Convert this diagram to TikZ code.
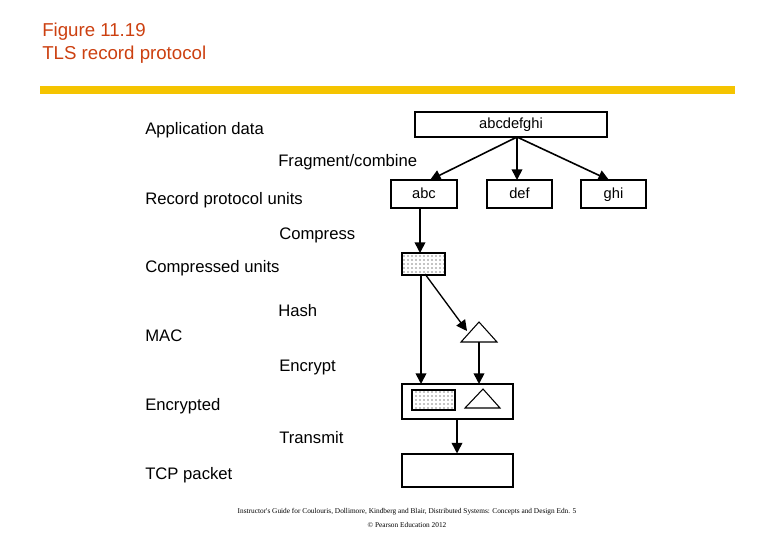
\documentclass[tikz,border=0pt]{standalone}
\usepackage{fontspec}
\setmainfont{Liberation Sans}
\newfontfamily\footserif{Liberation Serif}
\usetikzlibrary{patterns,arrows.meta}
\definecolor{bar}{RGB}{245,196,0}
\definecolor{ttl}{RGB}{204,64,16}
\begin{document}
\begin{tikzpicture}[x=0.75pt,y=-0.75pt,
  box/.style={draw,line width=0.8pt,inner sep=0pt},
  bt/.style={box,font=\fontsize{11}{13}\selectfont,text height=8pt,text depth=2pt},
  lbl/.style={anchor=west,inner sep=0pt,font=\fontsize{12.5}{14}\selectfont},
  tl/.style={anchor=west,inner sep=0pt,text=ttl,font=\fontsize{14}{16}\selectfont},
  arr/.style={line width=1.2pt,-{Triangle[length=8pt,width=8pt]}},
  dots/.style={pattern=dots}]
\useasboundingbox (0,0) rectangle (780,540);
\node[tl] (t1) at (42,32) {Figure 11.19};
\node[tl] (t2) at (42,55) {TLS record protocol};
\fill[bar] (40,86) rectangle (735,94);
\node[lbl] (l1) at (145,130) {Application data};
\node[lbl] (l2) at (278,162) {Fragment/combine};
\node[lbl] (l3) at (145,200) {Record protocol units};
\node[lbl] (l4) at (279,235) {Compress};
\node[lbl] (l5) at (145,268) {Compressed units};
\node[lbl] (l6) at (278,311) {Hash};
\node[lbl] (l7) at (145,336) {MAC};
\node[lbl] (l8) at (279,367) {Encrypt};
\node[lbl] (l9) at (145,406) {Encrypted};
\node[lbl] (l10) at (279,438) {Transmit};
\node[lbl] (l11) at (145,475) {TCP packet};
\node[bt,minimum width=192pt*0.75,minimum height=25pt*0.75] (all) at (511,124.5) {abcdefghi};
\node[bt,minimum width=66pt*0.75,minimum height=28pt*0.75] (abc) at (424,194) {abc};
\node[bt,minimum width=65pt*0.75,minimum height=28pt*0.75] (def) at (519.5,194) {def};
\node[bt,minimum width=65pt*0.75,minimum height=28pt*0.75] (ghi) at (613.5,194) {ghi};
\coordinate (src) at (517,137);
\draw[arr] (src) -- (430,180);
\draw[arr] (src) -- (517,180);
\draw[arr] (src) -- (609,180);
\node[box,dots,minimum width=43pt*0.75,minimum height=22pt*0.75] (cmp) at (423.5,264) {};
\draw[arr] (420,208) -- (420,253);
\coordinate (tA) at (479,322);
\draw[line width=0.8pt,fill=white] (tA) -- (497,342) -- (461,342) -- cycle;
\draw[line width=1pt,-{Triangle[length=8pt,width=8pt]}] (425,274) -- (467,331);
\node[box,minimum width=111pt*0.75,minimum height=35pt*0.75] (enc) at (457.5,401.5) {};
\draw[box,dots] (412,390) rectangle (455,410);
\draw[line width=0.8pt] (483,389) -- (500,408) -- (465,408) -- cycle;
\draw[arr] (421,275) -- (421,384);
\draw[arr] (479,342) -- (479,384);
\node[box,minimum width=111pt*0.75,minimum height=33pt*0.75] (tcp) at (457.5,470.5) {};
\draw[arr] (457,419) -- (tcp.north -| 457,0);
\node[inner sep=0pt,font=\footserif\fontsize{5.5}{6}\selectfont] (f1) at (407,512) {Instructor's Guide for Coulouris, Dollimore, Kindberg and Blair, Distributed Systems: Concepts and Design Edn. 5};
\node[inner sep=0pt,font=\footserif\fontsize{5.5}{6}\selectfont] (f2) at (407,525) {\textcopyright{} Pearson Education 2012};
\end{tikzpicture}
\end{document}
